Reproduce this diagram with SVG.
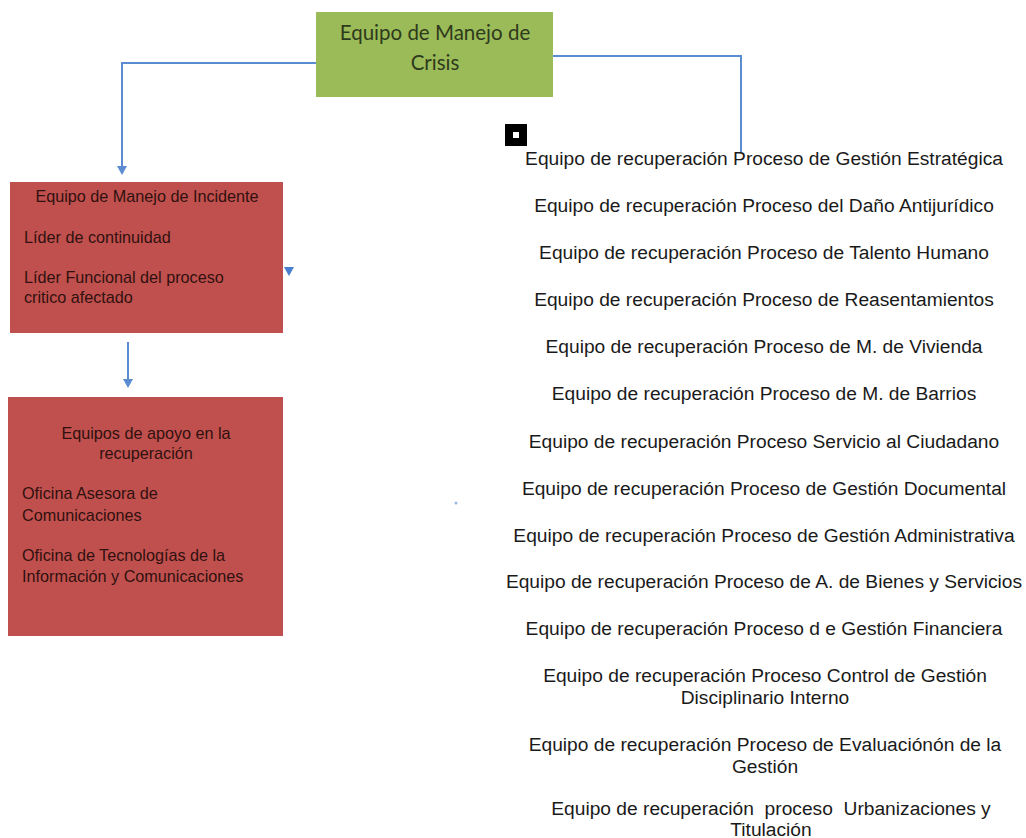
<svg xmlns="http://www.w3.org/2000/svg" width="1026" height="838" viewBox="0 0 1026 838">
<style>
.g{fill:#9BBB59}
.r{fill:#C0504D}
.gt{font-family:Lato,"Open Sans",sans-serif;font-size:20.5px;fill:#2e3a1c;text-anchor:middle}
.rt{font-family:"Liberation Sans",Arial,sans-serif;font-size:16.2px;fill:#301010}
.lt{font-family:"Liberation Sans",Arial,sans-serif;font-size:19.2px;fill:#1a1a1a;text-anchor:middle}
.c{fill:none;stroke:#5B8BD0;stroke-width:2}
</style>
<rect width="1026" height="838" fill="#ffffff"/>
<g id="connectors">
<path class="c" d="M316,63 H122 V170"/>
<path d="M117,166 L127,166 L122,175 Z" fill="#5B8BD0"/>
<path class="c" d="M553,56 H741 V152"/>
<path d="M284,267 L294,267 L289,276 Z" fill="#4a7fcf"/>
<path class="c" d="M128,342 V382"/>
<path d="M123,379 L133,379 L128,388 Z" fill="#5B8BD0"/>
<circle cx="456" cy="503" r="1.5" fill="#9ab8e6"/>
</g>
<g id="crisis">
<rect class="g" x="316" y="12" width="237" height="85"/>
<text class="gt" x="435" y="40">Equipo de Manejo de</text>
<text class="gt" x="435" y="70">Crisis</text>
</g>
<g id="incidente">
<rect class="r" x="10" y="182" width="273" height="151"/>
<text class="rt" x="147" y="202" text-anchor="middle">Equipo de Manejo de Incidente</text>
<text class="rt" x="24" y="243">Líder de continuidad</text>
<text class="rt" x="24" y="283">Líder Funcional del proceso</text>
<text class="rt" x="24" y="303">critico afectado</text>
</g>
<g id="apoyo">
<rect class="r" x="8" y="397" width="275" height="239"/>
<text class="rt" x="146" y="439" text-anchor="middle">Equipos de apoyo en la</text>
<text class="rt" x="146" y="459" text-anchor="middle">recuperación</text>
<text class="rt" x="22" y="499">Oficina Asesora de</text>
<text class="rt" x="22" y="521">Comunicaciones</text>
<text class="rt" x="22" y="561">Oficina de Tecnologías de la</text>
<text class="rt" x="22" y="582">Información y Comunicaciones</text>
</g>
<g id="marker-square">
<rect x="505" y="124" width="22" height="22" fill="#000"/>
<rect x="513" y="132" width="6" height="6" fill="#fff"/>
</g>
<g id="equipos">
<text class="lt" x="764" y="165">Equipo de recuperación Proceso de Gestión Estratégica</text>
<text class="lt" x="764" y="212">Equipo de recuperación Proceso del Daño Antijurídico</text>
<text class="lt" x="764" y="259">Equipo de recuperación Proceso de Talento Humano</text>
<text class="lt" x="764" y="306">Equipo de recuperación Proceso de Reasentamientos</text>
<text class="lt" x="764" y="353">Equipo de recuperación Proceso de M. de Vivienda</text>
<text class="lt" x="764" y="400">Equipo de recuperación Proceso de M. de Barrios</text>
<text class="lt" x="764" y="448">Equipo de recuperación Proceso Servicio al Ciudadano</text>
<text class="lt" x="764" y="495">Equipo de recuperación Proceso de Gestión Documental</text>
<text class="lt" x="764" y="542">Equipo de recuperación Proceso de Gestión Administrativa</text>
<text class="lt" x="764" y="588">Equipo de recuperación Proceso de A. de Bienes y Servicios</text>
<text class="lt" x="764" y="635">Equipo de recuperación Proceso d e Gestión Financiera</text>
<text class="lt" x="765" y="682">Equipo de recuperación Proceso Control de Gestión</text>
<text class="lt" x="765" y="704">Disciplinario Interno</text>
<text class="lt" x="765" y="751">Equipo de recuperación Proceso de Evaluaciónón de la</text>
<text class="lt" x="765" y="773">Gestión</text>
<text class="lt" x="771" y="815" xml:space="preserve">Equipo de recuperación  proceso  Urbanizaciones y</text>
<text class="lt" x="771" y="836">Titulación</text>
</g>
</svg>
